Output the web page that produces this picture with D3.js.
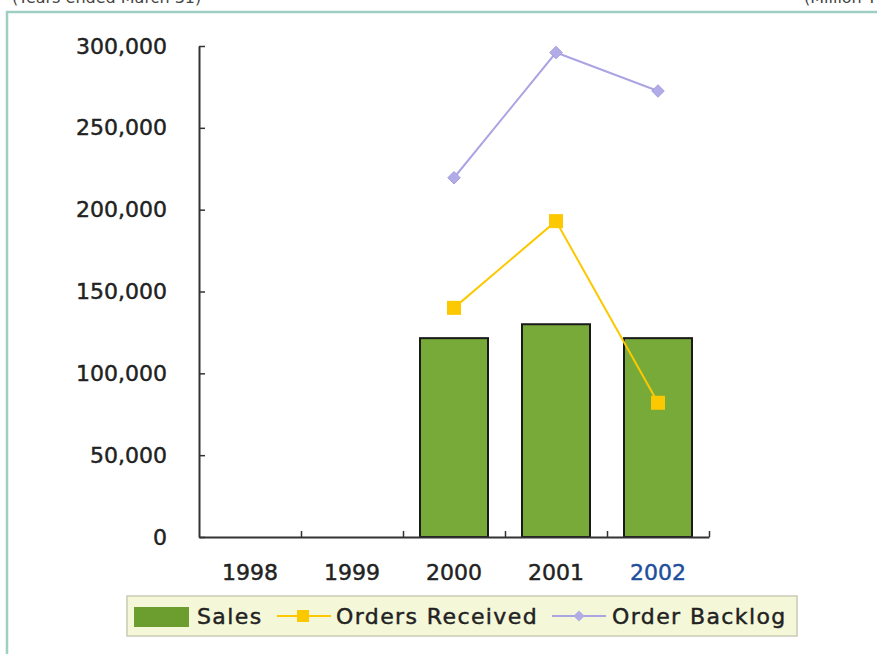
<!DOCTYPE html>
<html>
<head>
<meta charset="utf-8">
<script src="https://cdn.jsdelivr.net/npm/d3@7"></script>
<style>
  html, body { margin: 0; padding: 0; background: #fff; }
  svg { display: block; }
  text { font-family: "DejaVu Sans", sans-serif; }
  .heavy { stroke: #222; stroke-width: 0.45px; }
</style>
</head>
<body>
<svg id="chart" width="877" height="654"></svg>
<script>
// Fiscal years (ended March 31), values in million yen
const years = ["1998", "1999", "2000", "2001", "2002"];
const sales = [null, null, 121500, 130000, 121500];
const ordersReceived = [null, null, 140000, 193000, 82000];
const orderBacklog = [null, null, 219500, 296000, 272500];
const yTicks = [0, 50000, 100000, 150000, 200000, 250000, 300000];
const legendLabels = ["Sales", "Orders Received", "Order Backlog"];

const svg = d3.select("#chart");

// Outer panel frame and header notes
svg.append("text").attr("x", 12).attr("y", 3).attr("font-size", 16)
  .attr("fill", "#444").text("(Years ended March 31)");
svg.append("text").attr("x", 804).attr("y", 3).attr("font-size", 16)
  .attr("fill", "#444").text("(Million ¥)");
svg.append("rect").attr("x", 7).attr("y", 12).attr("width", 900).attr("height", 700)
  .attr("fill", "#fff").attr("stroke", "#9fcfc2").attr("stroke-width", 2.5);

const plotLeft = 199, plotRight = 709, plotTop = 46, plotBottom = 537;

const x = d3.scaleBand().domain(years).range([plotLeft, plotRight])
  .paddingInner(1 / 3).paddingOuter(1 / 6);
const y = d3.scaleLinear().domain([0, 300000]).range([plotBottom, plotTop]);
const xCenter = d => x(d) + x.bandwidth() / 2;

// Bars
const barData = years.map((yr, i) => ({ yr, v: sales[i] })).filter(d => d.v != null);
svg.append("g").selectAll("rect").data(barData).join("rect")
  .attr("x", d => x(d.yr)).attr("y", d => y(d.v))
  .attr("width", x.bandwidth()).attr("height", d => y(0) - y(d.v))
  .attr("fill", "#78aa3a").attr("stroke", "#1a1a1a").attr("stroke-width", 2);

// Y axis (ticks pointing inward)
const yAxis = svg.append("g").attr("transform", `translate(${plotLeft},0)`)
  .call(d3.axisLeft(y).tickValues(yTicks).tickFormat(d3.format(","))
    .tickSize(-6).tickSizeOuter(0).tickPadding(32));
yAxis.select(".domain").attr("stroke", "#333").attr("stroke-width", 2);
yAxis.selectAll(".tick line").attr("stroke", "#333").attr("stroke-width", 1.5);
yAxis.selectAll("text").attr("font-size", 22).attr("fill", "#222").attr("class", "heavy");

// X axis: labels centred in each category, ticks at category boundaries
const xAxis = svg.append("g").attr("transform", `translate(0,${plotBottom})`)
  .call(d3.axisBottom(x).tickSize(0).tickPadding(27));
xAxis.select(".domain").attr("stroke", "#333").attr("stroke-width", 2);
xAxis.selectAll("text").attr("font-size", 22).attr("class", "heavy")
  .attr("fill", d => d === "2002" ? "#1f4e9c" : "#222")
  .style("stroke", d => d === "2002" ? "#1f4e9c" : "#222");

const bounds = d3.scaleLinear().domain([0, years.length]).range([plotLeft, plotRight]);
const xTickAxis = svg.append("g").attr("transform", `translate(0,${plotBottom})`)
  .call(d3.axisBottom(bounds).tickValues(d3.range(1, years.length + 1))
    .tickSize(-6).tickSizeOuter(0).tickFormat(""));
xTickAxis.select(".domain").remove();
xTickAxis.selectAll(".tick line").attr("stroke", "#333").attr("stroke-width", 1.5);

// Line series
const line = d3.line().defined(d => d.v != null).x(d => xCenter(d.yr)).y(d => y(d.v));

const backData = years.map((yr, i) => ({ yr, v: orderBacklog[i] }));
svg.append("path").datum(backData).attr("d", line)
  .attr("fill", "none").attr("stroke", "#aaa4e2").attr("stroke-width", 2);
svg.append("g").selectAll("path").data(backData.filter(d => d.v != null)).join("path")
  .attr("d", d3.symbol(d3.symbolDiamond2, 100))
  .attr("transform", d => `translate(${xCenter(d.yr)},${y(d.v)})`)
  .attr("fill", "#b2ace6").attr("stroke", "#a49ee0").attr("stroke-width", 1);

const ordData = years.map((yr, i) => ({ yr, v: ordersReceived[i] }));
svg.append("path").datum(ordData).attr("d", line)
  .attr("fill", "none").attr("stroke", "#fcc800").attr("stroke-width", 2);
svg.append("g").selectAll("rect").data(ordData.filter(d => d.v != null)).join("rect")
  .attr("x", d => xCenter(d.yr) - 7).attr("y", d => y(d.v) - 7)
  .attr("width", 14).attr("height", 14).attr("fill", "#fcc800");

// Legend
const lg = svg.append("g");
lg.append("rect").attr("x", 127).attr("y", 596).attr("width", 670).attr("height", 40)
  .attr("fill", "#f5f8d8").attr("stroke", "#c9cbb4").attr("stroke-width", 1.5);
lg.append("rect").attr("x", 134).attr("y", 607).attr("width", 55).attr("height", 20)
  .attr("fill", "#6b9e2e");
lg.append("line").attr("x1", 277).attr("x2", 331).attr("y1", 616).attr("y2", 616)
  .attr("stroke", "#fcc800").attr("stroke-width", 2);
lg.append("rect").attr("x", 297).attr("y", 610).attr("width", 12).attr("height", 12)
  .attr("fill", "#fcc800");
lg.append("line").attr("x1", 552).attr("x2", 606).attr("y1", 616).attr("y2", 616)
  .attr("stroke", "#aaa4e2").attr("stroke-width", 2);
lg.append("path").attr("d", d3.symbol(d3.symbolDiamond2, 80))
  .attr("transform", "translate(579,616)").attr("fill", "#b2ace6");
const legendX = [197, 336, 612];
lg.selectAll("text.lbl").data(legendLabels).join("text").attr("class", "lbl heavy")
  .attr("x", (d, i) => legendX[i]).attr("y", 624)
  .attr("font-size", 22).attr("letter-spacing", 1.4).attr("fill", "#222")
  .text(d => d);
</script>
</body>
</html>
